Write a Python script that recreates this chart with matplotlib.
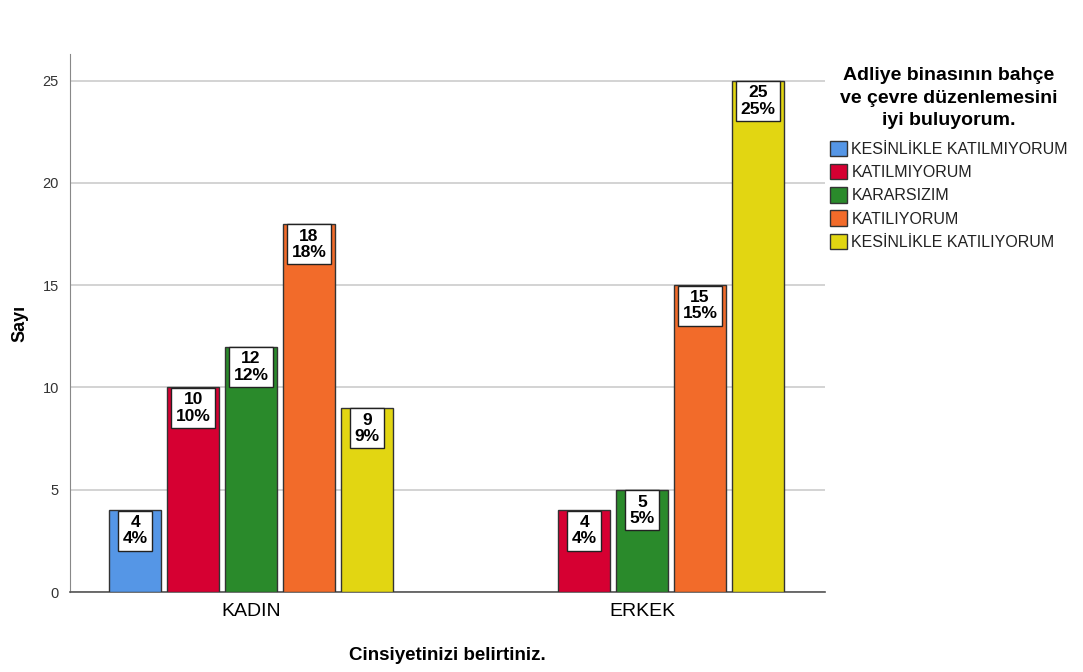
import numpy as np
import matplotlib.pyplot as plt
from matplotlib.patches import Patch

plt.rcParams['font.family'] = ['Liberation Sans', 'DejaVu Sans']

groups = ['KADIN', 'ERKEK']
answers = ['KESİNLİKLE KATILMIYORUM', 'KATILMIYORUM', 'KARARSIZIM',
           'KATILIYORUM', 'KESİNLİKLE KATILIYORUM']
colors = ['#5596e6', '#d60032', '#2a8a2b', '#f26b2a', '#e2d612']

# counts per answer, [KADIN, ERKEK]
counts = [
    [4, 0],
    [10, 4],
    [12, 5],
    [18, 15],
    [9, 25],
]
percents = [
    ['4%', ''],
    ['10%', '4%'],
    ['12%', '5%'],
    ['18%', '15%'],
    ['9%', '25%'],
]

fig = plt.figure(figsize=(10.83, 6.72), dpi=100)
ax = fig.add_axes([0.0646, 0.119, 0.6972, 0.8006])

x = np.arange(len(groups))
step = 0.148
width = 0.133

for i, ans in enumerate(answers):
    pos = x + (i - 2) * step
    for j in range(len(groups)):
        v = counts[i][j]
        if v == 0:
            continue
        ax.bar(pos[j], v, width, color=colors[i], edgecolor='#333333',
               linewidth=1.0, zorder=3)
        ax.annotate('%d\n%s' % (v, percents[i][j]), (pos[j], v),
                    xytext=(0, -3.5), textcoords='offset points',
                    ha='center', va='top', fontsize=12.5, fontweight='bold',
                    linespacing=1.1,
                    bbox=dict(boxstyle='square,pad=0.25', fc='white',
                              ec='#222222', lw=1.0), zorder=4)

ax.set_xlim(-0.463, 1.468)
ax.set_ylim(0, 26.3)
ax.set_yticks([0, 5, 10, 15, 20, 25])
ax.set_xticks(x)
ax.set_xticklabels(groups, fontsize=14, color='black')
ax.tick_params(axis='y', length=0, labelsize=10.5, colors='#333333', pad=8)
ax.tick_params(axis='x', length=0, pad=8)
ax.yaxis.grid(True, color='#cccccc', linewidth=1.2, zorder=0)
ax.set_axisbelow(True)

for s in ['top', 'right']:
    ax.spines[s].set_visible(False)
ax.spines['left'].set_color('#888888')
ax.spines['bottom'].set_color('#555555')
ax.spines['bottom'].set_linewidth(1.2)

ax.set_ylabel('Sayı', fontsize=13, fontweight='bold', labelpad=10)
ax.set_xlabel('Cinsiyetinizi belirtiniz.', fontsize=13.5, fontweight='bold',
              labelpad=19)

handles = [Patch(facecolor=c, edgecolor='#333333', label=a)
           for a, c in zip(answers, colors)]
leg = fig.legend(handles=handles,
                 title='Adliye binasının bahçe\nve çevre düzenlemesini\niyi buluyorum.',
                 loc='upper left', bbox_to_anchor=(0.753, 0.922),
                 frameon=False, fontsize=11.5, handlelength=1.1,
                 handleheight=1.1, handletextpad=0.25, labelspacing=0.45,
                 title_fontproperties={'weight': 'bold', 'size': 14})
leg.get_title().set_multialignment('center')
leg.get_title().set_linespacing(1.45)
leg._legend_box.align = 'center'
leg._legend_box.sep = 8
for t in leg.get_texts():
    t.set_color('#222222')

fig.savefig('out.png', dpi=100, facecolor='white')
